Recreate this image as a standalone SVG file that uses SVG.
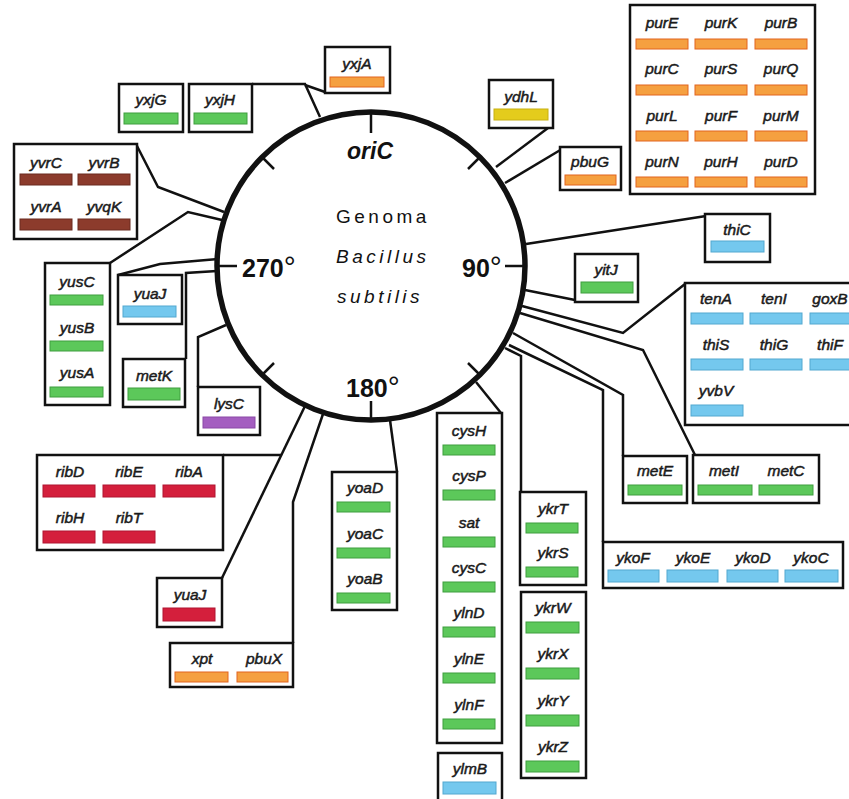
<svg xmlns="http://www.w3.org/2000/svg" width="849" height="799" viewBox="0 0 849 799">
<style>
.box{fill:#fff;stroke:#111;stroke-width:2.5}
.ln{fill:none;stroke:#111;stroke-width:2.5;stroke-linejoin:miter}
.g{font-family:"Liberation Sans",Arial,sans-serif;font-style:italic;font-size:15.5px;fill:#1a1a1a;stroke:#1a1a1a;stroke-width:0.5;text-anchor:middle}
.gr{fill:#5cc85a;stroke:#3e9e3e;stroke-width:1}
.or{fill:#f5a040;stroke:#e2641e;stroke-width:1}
.bl{fill:#74c8ee;stroke:#52a8d0;stroke-width:1}
.rd{fill:#d41f3c;stroke:#b01530;stroke-width:1}
.br{fill:#8c3b2c;stroke:#6a2a1e;stroke-width:1}
.ye{fill:#e4cc1c;stroke:#c8b010;stroke-width:1}
.pu{fill:#a45ec0;stroke:#8a48a6;stroke-width:1}
.tick{stroke:#111;stroke-width:2.5}
.deg{font-family:"Liberation Sans",Arial,sans-serif;font-weight:bold;font-size:25px;fill:#111}
.sup{font-size:30px;font-weight:normal}
.ctr{font-family:"Liberation Sans",Arial,sans-serif;font-size:19px;fill:#111;letter-spacing:3.5px}
</style>
<rect width="849" height="799" fill="#fff"/>

<g id="connectors">
<polyline class="ln" points="252,84 305,84 320,117"/>
<polyline class="ln" points="325,92 305,85"/>
<polyline class="ln" points="548,128 496,167"/>
<polyline class="ln" points="562,149 505,183"/>
<polyline class="ln" points="706,216 526,244"/>
<polyline class="ln" points="575,300 525,290"/>
<polyline class="ln" points="685,284 623,333 522,306"/>
<polyline class="ln" points="695,455 643,350 520,313"/>
<polyline class="ln" points="623,456 623,395 513,333"/>
<polyline class="ln" points="603,542 603,390 509,345"/>
<polyline class="ln" points="521,492 521,356 505,348"/>
<polyline class="ln" points="501,413 476,382"/>
<polyline class="ln" points="397,472 390,420"/>
<polyline class="ln" points="293,643 293,502 323,414"/>
<polyline class="ln" points="222,578 305,406"/>
<polyline class="ln" points="223,455 281,455"/>
<polyline class="ln" points="198,387 198,337 226,325"/>
<polyline class="ln" points="186,359 186,273 217,271"/>
<polyline class="ln" points="118,275 160,264 218,259"/>
<polyline class="ln" points="110,263 188,212 222,220"/>
<polyline class="ln" points="137,146 158,187 224,212"/>
</g>

<g id="genome">
<circle cx="371" cy="266" r="154" fill="#fff" stroke="#111" stroke-width="5.5"/>
<line class="tick" x1="371" y1="112" x2="371" y2="133"/>
<line class="tick" x1="371" y1="420" x2="371" y2="401"/>
<line class="tick" x1="217" y1="266" x2="237" y2="266"/>
<line class="tick" x1="525" y1="266" x2="505" y2="266"/>
<line class="tick" x1="480" y1="157" x2="468" y2="169"/>
<line class="tick" x1="262" y1="157" x2="274" y2="169"/>
<line class="tick" x1="480" y1="375" x2="468" y2="363"/>
<line class="tick" x1="262" y1="375" x2="274" y2="363"/>
<text x="370" y="159" text-anchor="middle" font-family="Liberation Sans, Arial, sans-serif" font-weight="bold" font-style="italic" font-size="23" fill="#111">oriC</text>
<text class="deg" x="242" y="277">270<tspan class="sup">°</tspan></text>
<text class="deg" x="462" y="277">90<tspan class="sup">°</tspan></text>
<text class="deg" x="346" y="397">180<tspan class="sup">°</tspan></text>
<text class="ctr" x="336" y="223">Genoma</text>
<text class="ctr" x="336" y="263" font-style="italic">Bacillus</text>
<text class="ctr" x="337" y="303" font-style="italic">subtilis</text>
</g>

<g id="yxjA"><rect class="box" x="325" y="47" width="65" height="46"/><text class="g" x="357" y="69">yxjA</text><rect class="or" x="330" y="77" width="54" height="10"/></g>
<g id="yxjG"><rect class="box" x="119" y="84" width="64" height="48"/><text class="g" x="151" y="105">yxjG</text><rect class="gr" x="124" y="113" width="54" height="11"/></g>
<g id="yxjH"><rect class="box" x="189" y="84" width="63" height="48"/><text class="g" x="220" y="105">yxjH</text><rect class="gr" x="194" y="113" width="53" height="11"/></g>
<g id="yvr">
<rect class="box" x="14" y="144" width="123" height="95"/>
<text class="g" x="46" y="168">yvrC</text><text class="g" x="104" y="168">yvrB</text>
<rect class="br" x="20" y="174" width="52" height="11"/><rect class="br" x="78" y="174" width="52" height="11"/>
<text class="g" x="46" y="212">yvrA</text><text class="g" x="104" y="212">yvqK</text>
<rect class="br" x="20" y="219" width="52" height="11"/><rect class="br" x="78" y="219" width="52" height="11"/>
</g>
<g id="ydhL"><rect class="box" x="489" y="80" width="64" height="48"/><text class="g" x="521" y="102">ydhL</text><rect class="ye" x="494" y="109" width="54" height="11"/></g>
<g id="pbuG"><rect class="box" x="560" y="147" width="61" height="43"/><text class="g" x="590" y="167">pbuG</text><rect class="or" x="565" y="175" width="51" height="10"/></g>
<g id="pur">
<rect class="box" x="630" y="5" width="185" height="189"/>
<text class="g" x="662" y="28">purE</text><text class="g" x="721" y="28">purK</text><text class="g" x="781" y="28">purB</text>
<rect class="or" x="636" y="39" width="52" height="10"/><rect class="or" x="695" y="39" width="52" height="10"/><rect class="or" x="755" y="39" width="52" height="10"/>
<text class="g" x="662" y="74">purC</text><text class="g" x="721" y="74">purS</text><text class="g" x="781" y="74">purQ</text>
<rect class="or" x="636" y="85" width="52" height="10"/><rect class="or" x="695" y="85" width="52" height="10"/><rect class="or" x="755" y="85" width="52" height="10"/>
<text class="g" x="662" y="121">purL</text><text class="g" x="721" y="121">purF</text><text class="g" x="781" y="121">purM</text>
<rect class="or" x="636" y="131" width="52" height="10"/><rect class="or" x="695" y="131" width="52" height="10"/><rect class="or" x="755" y="131" width="52" height="10"/>
<text class="g" x="662" y="167">purN</text><text class="g" x="721" y="167">purH</text><text class="g" x="781" y="167">purD</text>
<rect class="or" x="636" y="177" width="52" height="10"/><rect class="or" x="695" y="177" width="52" height="10"/><rect class="or" x="755" y="177" width="52" height="10"/>
</g>
<g id="thiC"><rect class="box" x="705" y="214" width="65" height="48"/><text class="g" x="737" y="235">thiC</text><rect class="bl" x="711" y="241" width="53" height="11"/></g>
<g id="yitJ"><rect class="box" x="575" y="254" width="63" height="48"/><text class="g" x="606" y="275">yitJ</text><rect class="gr" x="581" y="282" width="52" height="11"/></g>
<g id="ten">
<rect class="box" x="685" y="283" width="190" height="142"/>
<text class="g" x="716" y="304">tenA</text><text class="g" x="774" y="304">tenI</text><text class="g" x="830" y="304">goxB</text>
<rect class="bl" x="691" y="313" width="52" height="11"/><rect class="bl" x="750" y="313" width="52" height="11"/><rect class="bl" x="810" y="313" width="52" height="11"/>
<text class="g" x="716" y="350">thiS</text><text class="g" x="774" y="350">thiG</text><text class="g" x="830" y="350">thiF</text>
<rect class="bl" x="691" y="359" width="52" height="11"/><rect class="bl" x="750" y="359" width="52" height="11"/><rect class="bl" x="810" y="359" width="52" height="11"/>
<text class="g" x="716" y="396">yvbV</text>
<rect class="bl" x="691" y="405" width="52" height="11"/>
</g>
<g id="metE"><rect class="box" x="623" y="456" width="64" height="47"/><text class="g" x="655" y="476">metE</text><rect class="gr" x="628" y="485" width="54" height="10"/></g>
<g id="metIC">
<rect class="box" x="693" y="455" width="126" height="48"/>
<text class="g" x="724" y="476">metI</text><text class="g" x="786" y="476">metC</text>
<rect class="gr" x="698" y="485" width="54" height="10"/><rect class="gr" x="759" y="485" width="54" height="10"/>
</g>
<g id="yko">
<rect class="box" x="603" y="542" width="240" height="46"/>
<text class="g" x="633" y="563">ykoF</text><text class="g" x="693" y="563">ykoE</text><text class="g" x="753" y="563">ykoD</text><text class="g" x="811" y="563">ykoC</text>
<rect class="bl" x="608" y="570" width="51" height="12"/><rect class="bl" x="667" y="570" width="51" height="12"/><rect class="bl" x="727" y="570" width="51" height="12"/><rect class="bl" x="785" y="570" width="53" height="12"/>
</g>
<g id="ykrTS">
<rect class="box" x="520" y="492" width="66" height="93"/>
<text class="g" x="553" y="514">ykrT</text><rect class="gr" x="526" y="523" width="52" height="10"/>
<text class="g" x="553" y="558">ykrS</text><rect class="gr" x="526" y="567" width="52" height="10"/>
</g>
<g id="ykrWZ">
<rect class="box" x="521" y="592" width="65" height="186"/>
<text class="g" x="553" y="613">ykrW</text><rect class="gr" x="526" y="622" width="53" height="11"/>
<text class="g" x="553" y="659">ykrX</text><rect class="gr" x="526" y="668" width="53" height="11"/>
<text class="g" x="553" y="706">ykrY</text><rect class="gr" x="526" y="715" width="53" height="11"/>
<text class="g" x="553" y="752">ykrZ</text><rect class="gr" x="526" y="761" width="53" height="11"/>
</g>
<g id="cys">
<rect class="box" x="437" y="413" width="65" height="330"/>
<text class="g" x="469" y="436">cysH</text><rect class="gr" x="443" y="445" width="52" height="10"/>
<text class="g" x="469" y="481">cysP</text><rect class="gr" x="443" y="490" width="52" height="10"/>
<text class="g" x="469" y="528">sat</text><rect class="gr" x="443" y="537" width="52" height="10"/>
<text class="g" x="469" y="573">cysC</text><rect class="gr" x="443" y="582" width="52" height="10"/>
<text class="g" x="469" y="618">ylnD</text><rect class="gr" x="443" y="627" width="52" height="10"/>
<text class="g" x="469" y="664">ylnE</text><rect class="gr" x="443" y="673" width="52" height="10"/>
<text class="g" x="469" y="710">ylnF</text><rect class="gr" x="443" y="719" width="52" height="10"/>
</g>
<g id="ylmB"><rect class="box" x="438" y="753" width="64" height="52"/><text class="g" x="470" y="774">ylmB</text><rect class="bl" x="443" y="782" width="53" height="12"/></g>
<g id="yoa">
<rect class="box" x="332" y="472" width="65" height="138"/>
<text class="g" x="365" y="493">yoaD</text><rect class="gr" x="337" y="502" width="53" height="10"/>
<text class="g" x="365" y="539">yoaC</text><rect class="gr" x="337" y="548" width="53" height="10"/>
<text class="g" x="365" y="584">yoaB</text><rect class="gr" x="337" y="593" width="53" height="10"/>
</g>
<g id="rib">
<rect class="box" x="37" y="455" width="186" height="95"/>
<text class="g" x="70" y="477">ribD</text><text class="g" x="129" y="477">ribE</text><text class="g" x="189" y="477">ribA</text>
<rect class="rd" x="43" y="485" width="52" height="12"/><rect class="rd" x="103" y="485" width="52" height="12"/><rect class="rd" x="163" y="485" width="52" height="12"/>
<text class="g" x="70" y="523">ribH</text><text class="g" x="129" y="523">ribT</text>
<rect class="rd" x="43" y="531" width="52" height="12"/><rect class="rd" x="103" y="531" width="52" height="12"/>
</g>
<g id="yuaJ-red"><rect class="box" x="157" y="578" width="65" height="49"/><text class="g" x="190" y="600">yuaJ</text><rect class="rd" x="163" y="608" width="52" height="13"/></g>
<g id="xpt">
<rect class="box" x="170" y="643" width="123" height="44"/>
<text class="g" x="202" y="664">xpt</text><text class="g" x="264" y="664">pbuX</text>
<rect class="or" x="175" y="672" width="53" height="10"/><rect class="or" x="237" y="672" width="51" height="10"/>
</g>
<g id="yus">
<rect class="box" x="45" y="263" width="65" height="142"/>
<text class="g" x="77" y="287">yusC</text><rect class="gr" x="50" y="295" width="53" height="10"/>
<text class="g" x="77" y="333">yusB</text><rect class="gr" x="50" y="341" width="53" height="10"/>
<text class="g" x="77" y="378">yusA</text><rect class="gr" x="50" y="387" width="53" height="10"/>
</g>
<g id="yuaJ-blue"><rect class="box" x="118" y="275" width="64" height="49"/><text class="g" x="150" y="299">yuaJ</text><rect class="bl" x="123" y="306" width="53" height="11"/></g>
<g id="metK"><rect class="box" x="123" y="359" width="62" height="48"/><text class="g" x="154" y="381">metK</text><rect class="gr" x="128" y="388" width="52" height="12"/></g>
<g id="lysC"><rect class="box" x="198" y="387" width="62" height="48"/><text class="g" x="229" y="409">lysC</text><rect class="pu" x="203" y="417" width="52" height="11"/></g>
</svg>
